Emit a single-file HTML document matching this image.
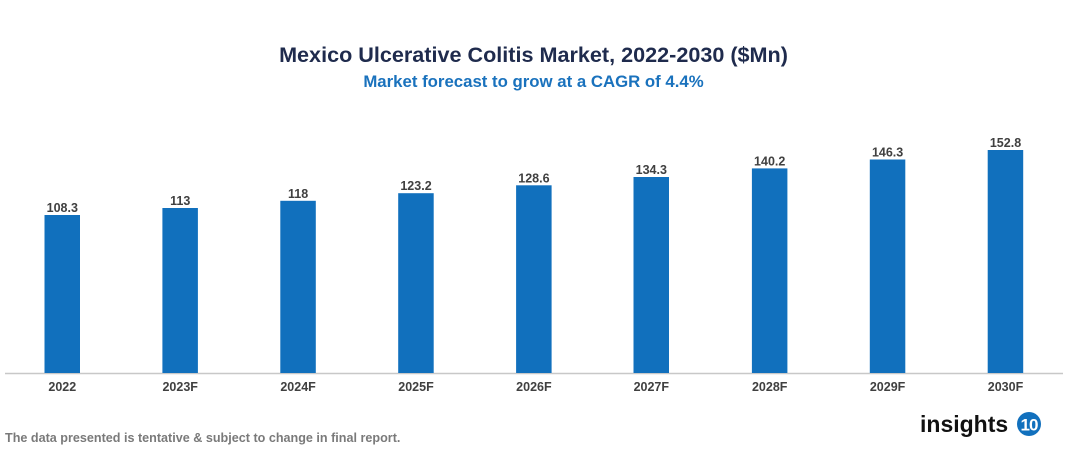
<!DOCTYPE html>
<html><head><meta charset="utf-8"><style>
html,body{margin:0;padding:0;background:#fff;}
svg{display:block;}
text{font-family:"Liberation Sans",Arial,sans-serif;font-weight:bold;}
</style></head><body>
<svg width="1067" height="454" viewBox="0 0 1067 454" xmlns="http://www.w3.org/2000/svg">
<text x="533.5" y="62" text-anchor="middle" font-size="21.6" fill="#1f2b4d">Mexico Ulcerative Colitis Market, 2022-2030 ($Mn)</text>
<text x="533.5" y="87" text-anchor="middle" font-size="16.8" fill="#1a72bd">Market forecast to grow at a CAGR of 4.4%</text>
<line x1="5" y1="373.5" x2="1063" y2="373.5" stroke="#c8c8c8" stroke-width="1.5"/>
<g fill="#1170bd">
<rect x="44.5" y="215" width="35.5" height="158"/>
<rect x="162.4" y="208" width="35.5" height="165"/>
<rect x="280.3" y="200.8" width="35.5" height="172.2"/>
<rect x="398.2" y="193.2" width="35.5" height="179.8"/>
<rect x="516.1" y="185.3" width="35.5" height="187.7"/>
<rect x="633.5" y="177" width="35.5" height="196"/>
<rect x="751.9" y="168.4" width="35.5" height="204.6"/>
<rect x="869.8" y="159.5" width="35.5" height="213.5"/>
<rect x="987.7" y="150" width="35.5" height="223"/>
</g>
<g font-size="12.5" fill="#404040" text-anchor="middle">
<text x="62.3" y="212">108.3</text>
<text x="180.2" y="205">113</text>
<text x="298.1" y="197.8">118</text>
<text x="416" y="190.2">123.2</text>
<text x="533.9" y="182.3">128.6</text>
<text x="651.3" y="174">134.3</text>
<text x="769.7" y="165.4">140.2</text>
<text x="887.6" y="156.5">146.3</text>
<text x="1005.5" y="147">152.8</text>
</g>
<g font-size="12.5" fill="#404040" text-anchor="middle">
<text x="62.3" y="391">2022</text>
<text x="180.2" y="391">2023F</text>
<text x="298.1" y="391">2024F</text>
<text x="416" y="391">2025F</text>
<text x="533.9" y="391">2026F</text>
<text x="651.3" y="391">2027F</text>
<text x="769.7" y="391">2028F</text>
<text x="887.6" y="391">2029F</text>
<text x="1005.5" y="391">2030F</text>
</g>
<text x="5" y="442" font-size="12.6" fill="#7a7a7a">The data presented is tentative &amp; subject to change in final report.</text>
<text x="920" y="432" font-size="23" fill="#111">insights</text>
<circle cx="1029" cy="424" r="12" fill="#1170bd"/>
<text x="1029" y="430.5" text-anchor="middle" font-size="17" fill="#fff" letter-spacing="-1">10</text>
</svg>
</body></html>
